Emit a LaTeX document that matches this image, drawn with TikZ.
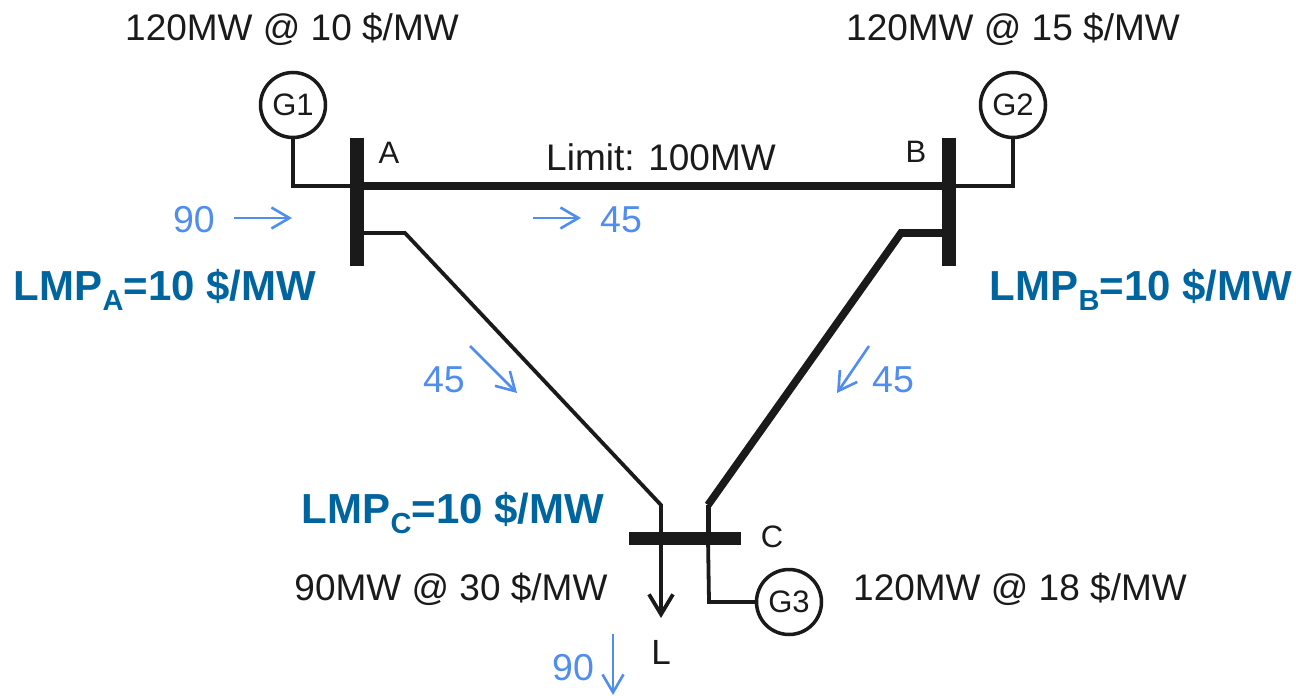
\documentclass[tikz,border=0pt]{standalone}
\usepackage{fontspec}
\setmainfont{Liberation Sans}
\usepackage{xcolor}
\usetikzlibrary{positioning, arrows.meta}
\definecolor{lmpblue}{HTML}{00659F}
\definecolor{flowblue}{HTML}{4F8DEE}
\definecolor{linedark}{HTML}{1A1A1A}
\newcommand{\lmptext}[1]{LMP\raisebox{-0.24em}{\fontsize{29}{29}\selectfont #1}=10 \$/MW}

\begin{document}
\begin{tikzpicture}[x=1pt, y=-1pt,
    gen/.style={draw=linedark, circle, line width=3.5pt, minimum size=65pt, inner sep=0pt,
        font=\fontsize{31}{31}\selectfont, text=linedark},
    busv/.style={fill=linedark, minimum width=13.5pt, minimum height=128pt, inner sep=0pt},
    bush/.style={fill=linedark, minimum width=112pt, minimum height=13pt, inner sep=0pt},
    thinline/.style={draw=linedark, line width=3.8pt},
    congested/.style={draw=linedark, line width=7.6pt},
    price/.style={font=\fontsize{37}{37}\selectfont, text=linedark},
    busname/.style={font=\fontsize{31}{31}\selectfont, text=linedark},
    flowlabel/.style={font=\fontsize{37.5}{37.5}\selectfont, text=flowblue},
    flowarrow/.style={draw=flowblue, line width=2.6pt, -{Straight Barb[length=18pt, width=21pt]}},
    lmplabel/.style={font=\fontsize{42}{42}\selectfont\bfseries, text=lmpblue}]
\useasboundingbox (0,0) rectangle (1296,696);
% Buses
\node[busv] (busA) at (357,202) {};
\node[busv] (busB) at (949,202) {};
\node[bush] (busC) at (685,538) {};
% Generators
\foreach \name/\txt/\x/\y in {G1/G1/293/105, G2/G2/1013/105, G3/G3/789/602}{
    \node[gen, fill=white] (\name) at (\x,\y) {\txt};
}
% Corner points of the lines
\coordinate (kneeG1) at (293,186);
\coordinate (kneeG2) at (1013,186);
\coordinate (kneeG3) at (709,602);
\coordinate (tapAB) at (357,186);
\coordinate (tapBA) at (949,186);
\coordinate (tapAC) at (357,233);
\coordinate (tapBC) at (949,233);
\coordinate (bendAC) at (405,233);
\coordinate (bendBC) at (901,233);
\coordinate (bendCA) at (661,505);
\coordinate (bendCB) at (708,505);
\coordinate (tapCA) at (661,538);
\coordinate (tapCB) at (708,538);
\coordinate (loadL) at (661,618);
% Draw lines
\draw[thinline] (G1) -- (kneeG1) -- (tapAB);
\draw[thinline] (G2) -- (kneeG2) -- (tapBA);
\draw[thinline] (tapCB) -- (kneeG3) -- (G3);
\draw[draw=linedark, line width=8pt] (tapAB) -- (tapBA);
\draw[thinline] (tapAC) -- (bendAC) -- (bendCA) -- (tapCA);
\draw[congested] (tapBC) -- (bendBC) -- (bendCB);
\draw[draw=linedark, line width=5pt] (bendCB) -- (tapCB);
\draw[thinline, -{Straight Barb[length=20pt, width=24pt]}] (tapCA) -- (loadL);
% Flow arrows
\foreach \name/\xa/\ya/\xb/\yb in {
    flowG/234/218/292/218, flowAB/533/218/581/218, flowAC/470/346/517/393,
    flowBC/869/346/837/393, flowL/613/634/613/695}{
    \coordinate (\name s) at (\xa,\ya);
    \coordinate (\name e) at (\xb,\yb);
    \draw[flowarrow] (\name s) -- (\name e);
}
% Flow labels
\foreach \name/\txt/\x/\y in {
    lab90G/90/194/220, lab45AB/45/621/220, lab45AC/45/444/380,
    lab45BC/45/893/380, lab90L/90/573/668}{
    \node[flowlabel] (\name) at (\x,\y) {\txt};
}
% Generator and load prices
\node[price] (priceG1) at (292,29) {120MW @ 10 \$/MW};
\node[price] (priceG2) at (1013,29) {120MW @ 15 \$/MW};
\node[price] (priceG3) at (1020,589) {120MW @ 18 \$/MW};
\node[price] (priceL) at (451,589) {90MW @ 30 \$/MW};
% Line limit
\node[price] (limitAB) at (661,157) {Limit: 100MW};
% Bus names
\node[busname] (nameA) at (389,153) {A};
\node[busname] (nameB) at (916,152) {B};
\node[busname] (nameC) at (772,537) {C};
\node[price, font=\fontsize{35}{35}\selectfont] (nameL) at (661,652) {L};
% LMP labels
\node[lmplabel] (lmpA) at (165,290) {\lmptext{A}};
\node[lmplabel] (lmpB) at (1141,290) {\lmptext{B}};
\node[lmplabel] (lmpC) at (453,513) {\lmptext{C}};
\end{tikzpicture}
\end{document}
